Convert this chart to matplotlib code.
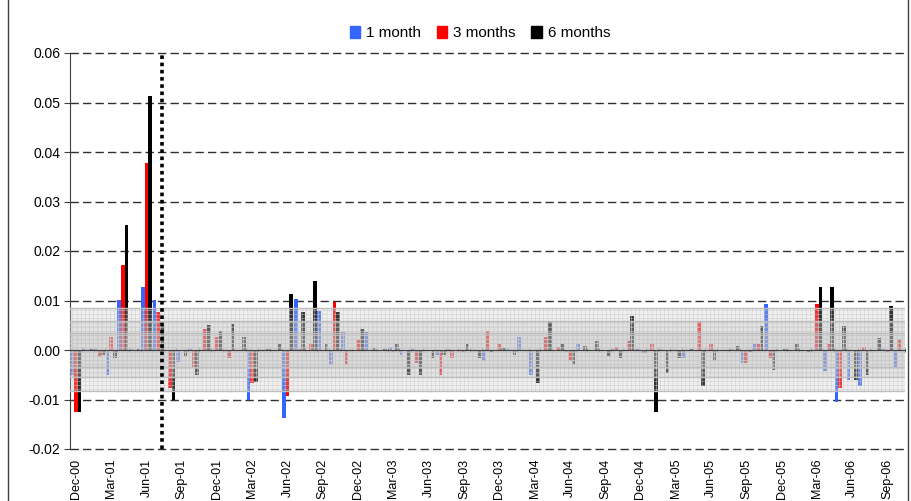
import matplotlib
matplotlib.use("Agg")
import matplotlib.pyplot as plt
import numpy as np
from matplotlib.patches import Patch, Rectangle
from matplotlib.ticker import FuncFormatter

plt.rcParams["font.family"] = ["Liberation Sans", "DejaVu Sans"]
plt.rcParams["axes.unicode_minus"] = False
plt.rcParams["hatch.linewidth"] = 0.3

# monthly categories Dec-00 .. Oct-06 (71 months), labels on every third
tick_labels = ["Dec-00", "Mar-01", "Jun-01", "Sep-01", "Dec-01", "Mar-02", "Jun-02", "Sep-02",
               "Dec-02", "Mar-03", "Jun-03", "Sep-03", "Dec-03", "Mar-04", "Jun-04", "Sep-04",
               "Dec-04", "Mar-05", "Jun-05", "Sep-05", "Dec-05", "Mar-06", "Jun-06", "Sep-06"]

one_month = [-0.0050, 0.0003, 0.0002, -0.0051, 0.0102, 0.0002, 0.0127, 0.0102, -0.0002, -0.0024,
             0.0002, -0.0002, 0.0000, 0.0000, 0.0000, -0.0102, 0.0000, 0.0000, -0.0137, 0.0103,
             0.0000, 0.0078, -0.0031, 0.0037, 0.0000, 0.0036, 0.0000, 0.0007, -0.0011, 0.0003,
             0.0000, -0.0011, 0.0003, 0.0000, 0.0000, -0.0023, 0.0000, 0.0003, 0.0027, -0.0051,
             0.0000, -0.0003, -0.0005, 0.0013, 0.0000, -0.0003, 0.0002, 0.0000, 0.0002, 0.0000,
             0.0003, 0.0000, -0.0016, 0.0000, 0.0000, 0.0000, 0.0003, -0.0026, 0.0013, 0.0093,
             0.0000, 0.0000, 0.0000, 0.0000, -0.0042, -0.0106, -0.0061, -0.0072, 0.0000, 0.0002,
             -0.0036]

three_months = [-0.0126, 0.0000, -0.0015, 0.0027, 0.0172, 0.0001, 0.0378, 0.0077, -0.0077, -0.0003,
                -0.0037, 0.0043, 0.0027, -0.0016, 0.0001, -0.0067, 0.0000, 0.0000, -0.0092, 0.0002,
                0.0013, -0.0003, 0.0097, -0.0031, 0.0020, 0.0000, 0.0000, -0.0004, 0.0000, -0.0026,
                0.0000, -0.0051, -0.0016, -0.0004, 0.0000, 0.0038, 0.0013, 0.0000, 0.0000, 0.0000,
                0.0027, 0.0007, -0.0023, 0.0000, 0.0000, 0.0000, 0.0007, 0.0019, 0.0000, 0.0013,
                0.0000, 0.0000, 0.0000, 0.0057, 0.0013, 0.0000, 0.0000, -0.0026, 0.0013, -0.0016,
                0.0000, 0.0000, 0.0000, 0.0093, 0.0013, -0.0076, -0.0003, 0.0007, 0.0000, -0.0005,
                0.0023]

six_months = [-0.0126, 0.0002, -0.0011, -0.0016, 0.0252, 0.0003, 0.0513, 0.0051, -0.0101, -0.0013,
              -0.0051, 0.0050, 0.0038, 0.0052, 0.0027, -0.0064, 0.0003, 0.0012, 0.0113, 0.0077,
              0.0139, 0.0012, 0.0077, 0.0001, 0.0043, 0.0004, 0.0003, 0.0013, -0.0051, -0.0051,
              -0.0016, -0.0011, 0.0000, 0.0013, -0.0016, -0.0005, 0.0004, -0.0011, 0.0000, -0.0067,
              0.0058, 0.0013, -0.0030, 0.0008, 0.0019, -0.0013, -0.0016, 0.0069, -0.0006, -0.0126,
              -0.0047, -0.0016, 0.0003, -0.0072, -0.0022, 0.0000, 0.0008, -0.0005, 0.0049, -0.0041,
              0.0003, 0.0013, -0.0004, 0.0128, 0.0128, 0.0049, -0.0061, -0.0051, 0.0024, 0.0089,
              0.0000]

# nested shaded bands (outer, middle, inner)
band_low = [-0.0082, -0.0055, -0.0035]
band_high = [0.0084, 0.0059, 0.0034]

event_pos = 7.3  # dotted vertical marker (category units)

n = len(one_month)
x = np.arange(n)
w = 0.31

fig = plt.figure(figsize=(9.11, 5.01), dpi=100)
ax = fig.add_axes([70 / 911, 1 - 449 / 501, 835 / 911, 396 / 501])

ax.bar(x - w, one_month, w, color="#3366FF", linewidth=0, zorder=2, label="1 month")
ax.bar(x, three_months, w, color="#FF0000", linewidth=0, zorder=2, label="3 months")
ax.bar(x + w, six_months, w, color="#000000", linewidth=0, zorder=2, label="6 months")

for lo, hi in zip(band_low, band_high):
    ax.axhspan(lo, hi, facecolor="#c4c4c4", alpha=0.27, edgecolor="none", zorder=3)
    ax.axhspan(lo, hi, facecolor="none", edgecolor="#c8c8c8", hatch="++++", linewidth=0, zorder=3)
    ax.axhline(lo, color="#bdbdbd", lw=1, zorder=3)
    ax.axhline(hi, color="#bdbdbd", lw=1, zorder=3)

ax.axvline(event_pos, color="black", lw=2.6, linestyle=(0, (1, 1)), zorder=5)

ax.set_xlim(-0.5, n - 0.5)
ax.set_ylim(-0.02, 0.06)
ax.set_yticks(np.arange(-0.02, 0.061, 0.01))
ax.yaxis.set_major_formatter(FuncFormatter(lambda v, p: f"{v:.2f}"))
ax.tick_params(axis="y", labelsize=10, length=4, color="#404040", pad=3)
ax.yaxis.grid(True, linestyle=(0, (6, 3)), color="#303030", lw=1)
ax.set_axisbelow(True)
for gl in ax.get_ygridlines():
    gl.set_clip_on(False)

ax.spines["top"].set_visible(False)
ax.spines["right"].set_visible(False)
ax.spines["left"].set_color("#404040")
ax.spines["bottom"].set_position(("data", 0))
ax.spines["bottom"].set_color("#404040")
ax.spines["bottom"].set_linewidth(0.8)
ax.spines["bottom"].set_zorder(4)
ax.set_xticks(np.arange(-0.5, n, 1))
ax.tick_params(axis="x", direction="inout", length=3, width=0.6, color="#404040", labelbottom=False)

sec = ax.secondary_xaxis("bottom")
sec.set_xticks(np.arange(0, n, 3))
sec.set_xticklabels(tick_labels, rotation=90, fontsize=9)
sec.tick_params(length=0, pad=7)
sec.spines["bottom"].set_visible(False)

handles = [Patch(color="#3366FF"), Patch(color="#FF0000"), Patch(color="#000000")]
fig.legend(handles, ["1 month", "3 months", "6 months"], loc="center", ncol=3,
           bbox_to_anchor=(0.527, 0.934), frameon=False, fontsize=11,
           handlelength=0.7, handleheight=0.9, handletextpad=0.4, columnspacing=1.0)

fig.add_artist(Rectangle((8 / 911, -0.1), 900 / 911, 1.2, transform=fig.transFigure,
                         fill=False, edgecolor="#404040", lw=1))

fig.savefig("out.png", dpi=100)
